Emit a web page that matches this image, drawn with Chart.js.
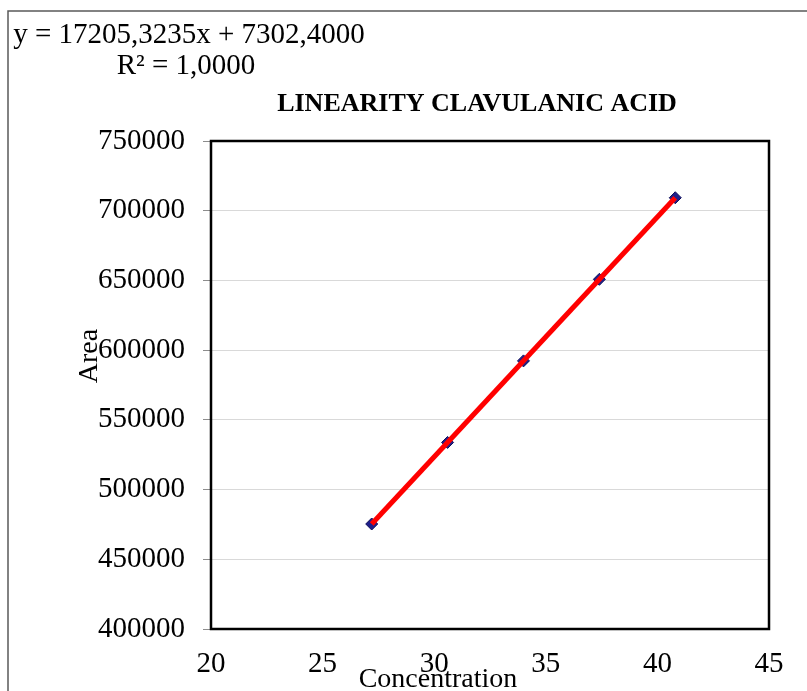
<!DOCTYPE html>
<html>
<head>
<meta charset="utf-8">
<title>Linearity Clavulanic Acid</title>
<script src="https://cdn.jsdelivr.net/npm/chart.js@4.4.1/dist/chart.umd.min.js"></script>
<style>
  html, body { margin: 0; padding: 0; background: #ffffff; }
  #wrap { width: 807px; height: 691px; position: relative; }
</style>
</head>
<body>
<div id="wrap"><canvas id="c" width="807" height="691"></canvas></div>
<script>
// Calibration standards: concentration vs. peak area
const concentration = [27.2, 30.6, 34.0, 37.4, 40.8];
const area = [475300, 533800, 592300, 650800, 709300];

// Least-squares fit as reported with the chart
const slope = 17205.3235;
const intercept = 7302.4;
const rSquared = 1.0;

// Axis ticks
const xTicks = [20, 25, 30, 35, 40, 45];
const yTicks = [400000, 450000, 500000, 550000, 600000, 650000, 700000, 750000];

const chartTitle = 'LINEARITY CLAVULANIC ACID';
const xTitle = 'Concentration';
const yTitle = 'Area';

const SERIF = '"Liberation Serif", "Times New Roman", serif';

// Fit line spans the calibrated range
const xMin = Math.min(...concentration);
const xMax = Math.max(...concentration);
const fitLine = [xMin, xMax].map(x => ({ x: x, y: slope * x + intercept }));

const points = concentration.map((x, i) => ({ x: x, y: area[i] }));

const comma = (v, d) => v.toFixed(d).replace('.', ',');
const eqText = 'y = ' + comma(slope, 4) + 'x + ' + comma(intercept, 4);
const r2Text = 'R\u00B2 = ' + comma(rSquared, 4);

const decor = {
  id: 'decor',
  beforeDraw(chart) {
    const ctx = chart.ctx;
    ctx.save();
    ctx.fillStyle = '#ffffff';
    ctx.fillRect(0, 0, chart.width, chart.height);
    // outer frame (top and left edges)
    ctx.strokeStyle = '#595959';
    ctx.lineWidth = 1.5;
    ctx.beginPath();
    ctx.moveTo(8, chart.height);
    ctx.lineTo(8, 11);
    ctx.lineTo(chart.width, 11);
    ctx.stroke();
    ctx.restore();
  },
  beforeDatasetsDraw(chart) {
    const ctx = chart.ctx;
    const a = chart.chartArea;
    ctx.save();
    ctx.strokeStyle = '#000000';
    ctx.lineWidth = 2.5;
    ctx.strokeRect(a.left, a.top, a.right - a.left, a.bottom - a.top);
    ctx.restore();
  },
  afterDraw(chart) {
    const ctx = chart.ctx;
    ctx.save();
    ctx.fillStyle = '#000000';
    ctx.textBaseline = 'alphabetic';

    // regression equation
    ctx.font = '29px ' + SERIF;
    ctx.textAlign = 'center';
    ctx.fillText(eqText, 189, 43);
    ctx.fillText(r2Text, 186, 74);

    // title
    ctx.font = 'bold 26px ' + SERIF;
    ctx.fillText(chartTitle, 477, 111);

    // axis titles
    ctx.font = '28px ' + SERIF;
    ctx.fillText(xTitle, 438, 687);
    ctx.translate(97, 356);
    ctx.rotate(-Math.PI / 2);
    ctx.fillText(yTitle, 0, 0);
    ctx.restore();
  }
};

new Chart(document.getElementById('c'), {
  type: 'scatter',
  data: {
    datasets: [
      {
        label: 'Fit',
        data: fitLine,
        showLine: true,
        borderColor: '#ff0000',
        borderWidth: 5,
        pointRadius: 0,
        fill: false,
        order: 0
      },
      {
        label: 'Standards',
        data: points,
        pointStyle: 'rectRot',
        pointRadius: 6,
        backgroundColor: '#1f1f8a',
        borderColor: '#10105a',
        borderWidth: 1,
        order: 1
      }
    ]
  },
  options: {
    responsive: false,
    animation: false,
    devicePixelRatio: 1,
    layout: { padding: { left: 0, right: 38, top: 141, bottom: 0 } },
    plugins: {
      legend: { display: false },
      tooltip: { enabled: false },
      title: { display: false }
    },
    scales: {
      x: {
        type: 'linear',
        min: 20,
        max: 45,
        afterBuildTicks: s => { s.ticks = xTicks.map(v => ({ value: v })); },
        afterFit: s => { s.height = 62; },
        grid: { display: false, drawTicks: false, tickLength: 0 },
        border: { display: false },
        ticks: {
          color: '#000000',
          font: { family: SERIF, size: 29 },
          padding: 18,
          maxRotation: 0,
          callback: v => String(v)
        }
      },
      y: {
        type: 'linear',
        min: 400000,
        max: 750000,
        afterBuildTicks: s => { s.ticks = yTicks.map(v => ({ value: v })); },
        afterFit: s => { s.width = 211; },
        grid: {
          color: '#d9d9d9',
          lineWidth: 1,
          drawTicks: true,
          tickLength: 8,
          tickColor: '#8c8c8c'
        },
        border: { display: false },
        ticks: {
          color: '#000000',
          font: { family: SERIF, size: 29 },
          padding: 18,
          callback: v => String(v)
        }
      }
    }
  },
  plugins: [decor]
});
</script>
</body>
</html>
